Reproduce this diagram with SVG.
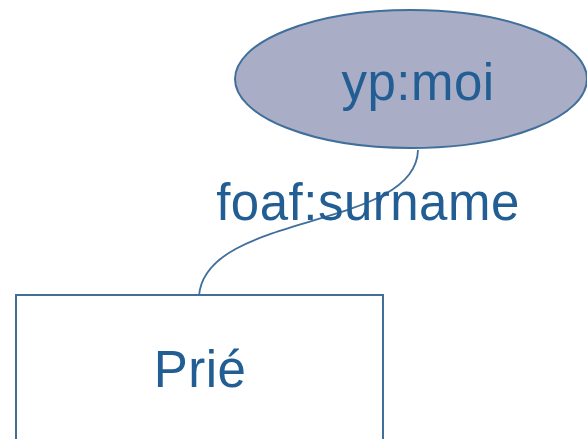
<svg xmlns="http://www.w3.org/2000/svg" width="587" height="439" viewBox="0 0 587 439">
  <style>
    .node-shape { stroke: #3f6f9a; stroke-width: 2; }
    .label { font-family: "Liberation Sans", Arial, sans-serif; fill: #225e93; text-anchor: middle; letter-spacing: 0.5px; }
    .edge { fill: none; stroke: #3f6f9a; stroke-width: 1.8; }
  </style>
  <rect width="587" height="439" fill="#ffffff"/>
  <g id="connectors">
    <path class="edge" d="M418,150 C416,230 205,212 199,296"/>
    <text class="label" x="368" y="220" font-size="51">foaf:surname</text>
  </g>
  <g id="node-moi">
    <ellipse class="node-shape" cx="411" cy="79" rx="176" ry="69" fill="#a9adc6"/>
    <text class="label" x="418" y="100" font-size="51">yp:moi</text>
  </g>
  <g id="node-prie">
    <rect class="node-shape" x="16" y="295" width="367" height="160" fill="#ffffff"/>
    <text class="label" x="200" y="387" font-size="51">Prié</text>
  </g>
</svg>
